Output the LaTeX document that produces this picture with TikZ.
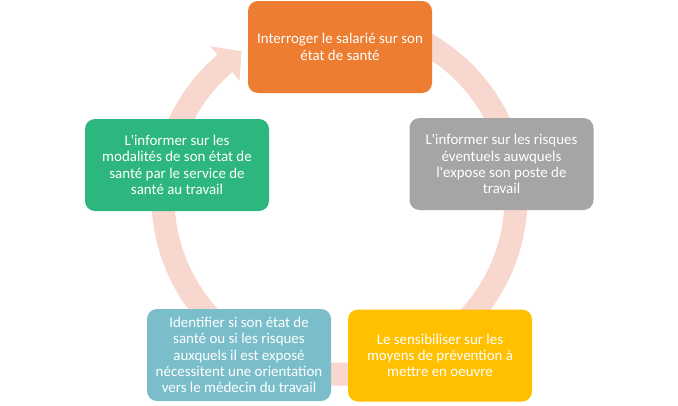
\documentclass[tikz,border=0pt]{standalone}
\usepackage{fontspec}
\setmainfont{Carlito}
\usetikzlibrary{calc, positioning, shapes}

\definecolor{ringpink}{RGB}{248,216,206}
\definecolor{orangebox}{RGB}{237,125,49}
\definecolor{graybox}{RGB}{165,165,165}
\definecolor{yellowbox}{RGB}{255,192,0}
\definecolor{tealbox}{RGB}{123,190,203}
\definecolor{greenbox}{RGB}{45,183,126}

\begin{document}
\begin{tikzpicture}[x=0.75pt, y=0.75pt,
  ele/.style={rounded corners=7.5pt, minimum width=138pt, minimum height=69pt, inner sep=1pt,
    text=white, align=center, font=\fontsize{11.2}{12.2}\selectfont},
  ring/.style={draw=ringpink, line width=17.25pt}]
  \useasboundingbox (0,0) rectangle (678,405);
  \coordinate (c) at (339.5,207.4);

  \draw[ring] ([shift={(c)}]75:176.5) arc[start angle=75, end angle=-230, radius=132.375pt];
  \fill[ringpink] ([shift={(c)}]130.5:199) -- ([shift={(c)}]123.8:176) -- ([shift={(c)}]130.5:154) -- cycle;

  \node[ele, fill=orangebox] (n1) at (340,358) {Interroger le salarié sur son\\état de santé};
  \node[ele, fill=graybox] (n2) at (501.5,241) {L\textquotesingle informer sur les risques\\éventuels auwquels\\l\textquotesingle expose son poste de\\travail};
  \node[ele, fill=yellowbox] (n3) at (440,49.5) {Le sensibiliser sur les\\moyens de prévention à\\mettre en oeuvre};
  \node[ele, fill=tealbox] (n4) at (239,50) {Identifier si son état de\\santé ou si les risques\\auxquels il est exposé\\nécessitent une orientation\\vers le médecin du travail};
  \node[ele, fill=greenbox] (n5) at (177,240) {L\textquotesingle informer sur les\\modalités de son état de\\santé par le service de\\santé au travail};
\end{tikzpicture}
\end{document}
